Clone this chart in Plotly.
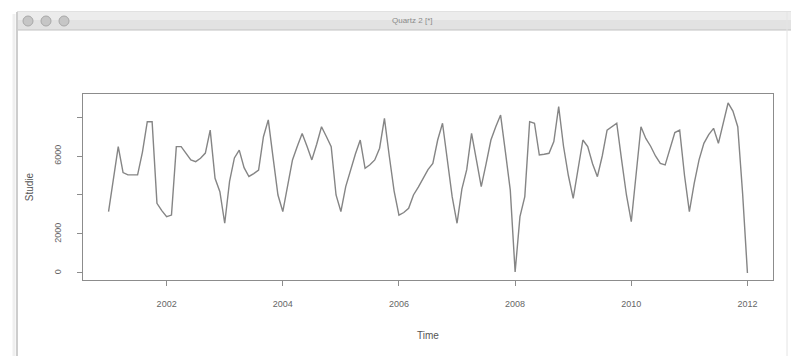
import plotly.graph_objects as go

# Monthly series, Jan 2001 .. Jan 2012
y2001 = [3150, 4800, 6480, 5150, 5030, 5030, 5030, 6200, 7760, 7760, 3570, 3200]
y2002 = [2890, 2970, 6480, 6480, 6150, 5800, 5710, 5880, 6150, 7330, 4860, 4170]
y2003 = [2550, 4700, 5900, 6300, 5400, 4950, 5100, 5280, 6990, 7850, 5900, 4000]
y2004 = [3150, 4500, 5800, 6500, 7160, 6500, 5800, 6600, 7500, 7000, 6480, 4000]
y2005 = [3150, 4430, 5300, 6100, 6820, 5370, 5550, 5800, 6400, 7930, 6000, 4200]
y2006 = [2970, 3100, 3320, 4000, 4400, 4850, 5300, 5620, 6820, 7680, 5800, 3900]
y2007 = [2550, 4300, 5300, 7160, 5800, 4430, 5600, 6820, 7500, 8100, 6200, 4250]
y2008 = [50, 2890, 3920, 7760, 7680, 6050, 6090, 6140, 6740, 8530, 6500, 5000]
y2009 = [3830, 5300, 6820, 6480, 5600, 4940, 6000, 7330, 7500, 7680, 5800, 4000]
y2010 = [2630, 5000, 7500, 6900, 6500, 6000, 5620, 5540, 6400, 7200, 7330, 5000]
y2011 = [3145, 4600, 5800, 6650, 7100, 7420, 6650, 7700, 8720, 8300, 7500, 4090]
y2012 = [0]

start_year = 2001
x_ticks = [2002, 2004, 2006, 2008, 2010, 2012]
y_ticks = [0, 2000, 4000, 6000, 8000]
y_ticktext = ["0", "2000", "", "6000", ""]
x_title = "Time"
y_title = "Studie"
window_title = "Quartz 2 [*]"
slide_title = "Mapping (mostly"

values = y2001 + y2002 + y2003 + y2004 + y2005 + y2006 + y2007 + y2008 + y2009 + y2010 + y2011 + y2012
times = [start_year + k / 12 for k in range(len(values))]

W, H = 791, 356
L, R, T, B = 83, 773, 94, 280

def px(x):
    return (x - L) / (R - L)

def py(y):
    return (B - y) / (B - T)

fig = go.Figure()
fig.add_trace(go.Scatter(x=times, y=values, mode="lines",
                         line=dict(color="#858585", width=1.4), hoverinfo="skip"))

font_fam = "Liberation Sans, Arial, sans-serif"
axis_col = "#8c8c8c"
fig.update_layout(
    width=W, height=H,
    margin=dict(l=L, r=W - R, t=T, b=H - B),
    paper_bgcolor="white", plot_bgcolor="white",
    showlegend=False,
    font=dict(family=font_fam, size=9, color="#666666"),
    xaxis=dict(range=[2000.56, 2012.44], tickvals=x_ticks, ticks="outside", ticklen=5,
               tickcolor=axis_col, showline=True, mirror=True, linecolor=axis_col, linewidth=1.2,
               showgrid=False, zeroline=False, ticklabelstandoff=10,
               title=dict(text=x_title, standoff=24, font=dict(size=10, color="#555555"))),
    yaxis=dict(range=[-360, 9180], tickvals=y_ticks, ticktext=y_ticktext, ticks="outside", ticklen=5,
               tickcolor=axis_col, showline=True, mirror=True, linecolor=axis_col, linewidth=1.2,
               showgrid=False, zeroline=False, tickangle=-90, ticklabelstandoff=12,
               title=dict(text=y_title, standoff=17, font=dict(size=10, color="#555555"))),
)

shapes = []
# window title bar
shapes.append(dict(type="rect", xref="paper", yref="paper", x0=px(17), x1=px(800), y0=py(30), y1=py(12),
                   fillcolor="#e2e2e2", line=dict(color="#c2c2c2", width=1), layer="below"))
shapes.append(dict(type="rect", xref="paper", yref="paper", x0=px(17), x1=px(800), y0=py(20), y1=py(12),
                   fillcolor="#ececec", line=dict(width=0), layer="below"))
# window left border
shapes.append(dict(type="line", xref="paper", yref="paper", x0=px(17), x1=px(17), y0=py(12), y1=py(360),
                   line=dict(color="#cdcdcd", width=2), layer="below"))
shapes.append(dict(type="line", xref="paper", yref="paper", x0=px(14), x1=px(14), y0=py(14), y1=py(360),
                   line=dict(color="#efefef", width=3), layer="below"))
# window right border
shapes.append(dict(type="line", xref="paper", yref="paper", x0=px(787), x1=px(787), y0=py(12), y1=py(360),
                   line=dict(color="#e4e4e4", width=1), layer="below"))
# traffic lights (inactive)
for cx in [28, 46, 64]:
    shapes.append(dict(type="circle", xref="paper", yref="paper", x0=px(cx - 5), x1=px(cx + 5),
                       y0=py(26), y1=py(16), fillcolor="#c6c6c6", line=dict(color="#a8a8a8", width=1)))
fig.update_layout(shapes=shapes)

fig.add_annotation(xref="paper", yref="paper", x=px(412), y=py(21), text=window_title, showarrow=False,
                   font=dict(size=8, color="#8a8a8a", family=font_fam), xanchor="center", yanchor="middle")
# slide title: only the bottoms of its letters peek in at the top edge;
# a blank second line keeps the annotation box on screen while the text sits above
fig.add_annotation(xref="paper", yref="paper", x=px(263), y=py(67.7),
                   text=slide_title + "<br>\u00a0", showarrow=False,
                   font=dict(size=54, color="black", family=font_fam, weight="bold"),
                   xanchor="left", yanchor="bottom", align="left", borderpad=0)

fig.write_html("out.html", config={"displayModeBar": False, "staticPlot": True},
               post_script="document.body.style.margin='0px';document.body.style.overflow='hidden';")
